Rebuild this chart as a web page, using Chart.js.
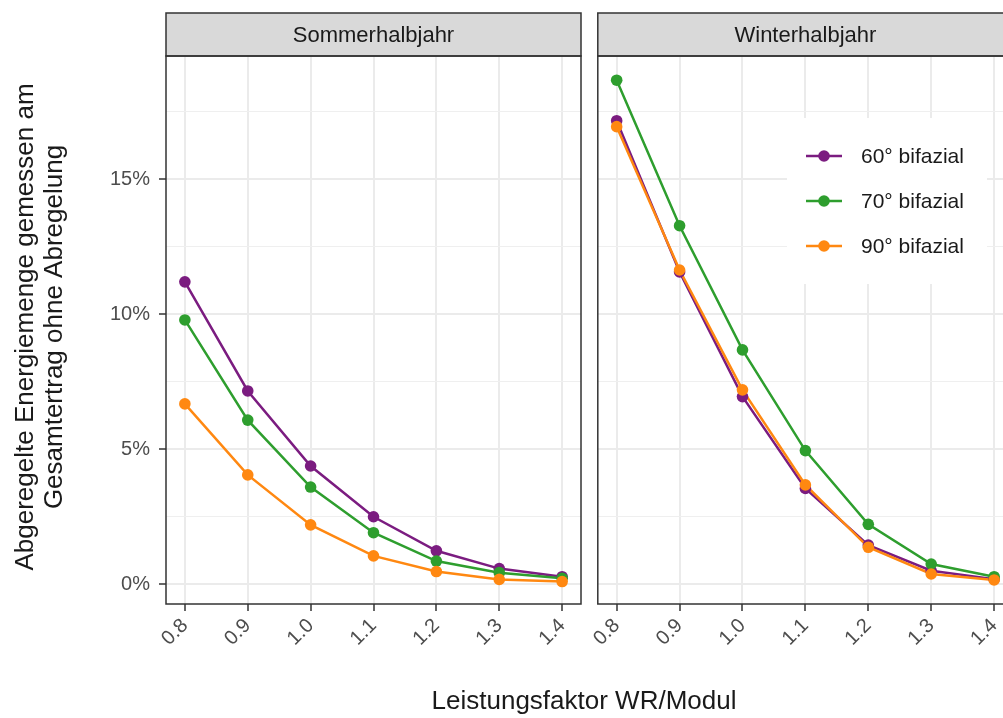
<!DOCTYPE html>
<html>
<head>
<meta charset="utf-8">
<script src="https://cdn.jsdelivr.net/npm/chart.js@4.4.1/dist/chart.umd.min.js"></script>
<style>
  html, body { margin: 0; padding: 0; background: #ffffff; overflow: hidden; width: 1003px; height: 718px; }
  #wrap { position: relative; width: 1003px; height: 718px; overflow: hidden; }
  canvas { position: absolute; top: 0; }
  #cSummer { left: 0; width: 1003px; height: 718px; }
  #cWinter { left: 592px; width: 434px; height: 718px; }
</style>
</head>
<body>
<div id="wrap">
  <canvas id="cSummer" width="1003" height="718"></canvas>
  <canvas id="cWinter" width="434" height="718"></canvas>
</div>
<script>
// Inverter/module power ratio (x axis)
const factors = [0.8, 0.9, 1.0, 1.1, 1.2, 1.3, 1.4];

// Curtailed energy share in % of total yield without curtailment
const summer60 = [11.19, 7.15, 4.37, 2.49, 1.23, 0.57, 0.27];
const summer70 = [9.78, 6.07, 3.59, 1.90, 0.85, 0.42, 0.21];
const summer90 = [6.67, 4.04, 2.19, 1.04, 0.46, 0.17, 0.09];

const winter60 = [17.16, 11.56, 6.94, 3.54, 1.44, 0.49, 0.18];
const winter70 = [18.66, 13.27, 8.67, 4.94, 2.21, 0.74, 0.27];
const winter90 = [16.94, 11.63, 7.19, 3.67, 1.36, 0.37, 0.15];

const seriesNames = ['60° bifazial', '70° bifazial', '90° bifazial'];
const seriesColors = ['#7b1c80', '#2e9e2e', '#ff8811'];

const yTicks = [0, 2.5, 5, 7.5, 10, 12.5, 15, 17.5];
const panelTitles = ['Sommerhalbjahr', 'Winterhalbjahr'];
const yTitle = ['Abgeregelte Energiemenge gemessen am', 'Gesamtertrag ohne Abregelung'];
const xTitle = 'Leistungsfaktor WR/Modul';

const FONT = "'Liberation Sans', Arial, Helvetica, sans-serif";
const INK = '#1a1a1a';
const FRAME = '#333333';
const WINTER_LEFT = 592;

// Lines first (below), then points on top, orange series topmost
function buildDatasets(values) {
  const lines = [], points = [];
  values.forEach((vals, i) => {
    const data = factors.map((f, j) => ({ x: f, y: vals[j] }));
    lines.push({
      label: seriesNames[i], data,
      borderColor: seriesColors[i], backgroundColor: seriesColors[i],
      borderWidth: 2.5, pointRadius: 0, pointHoverRadius: 0, tension: 0,
      order: 3 + (values.length - 1 - i)
    });
    points.push({
      label: seriesNames[i], data,
      borderColor: seriesColors[i], backgroundColor: seriesColors[i],
      showLine: false, pointRadius: 5.8, pointBorderWidth: 0, pointHoverRadius: 5.8,
      order: values.length - 1 - i
    });
  });
  return lines.concat(points);
}

const isMajor = c => c.tick && Math.abs(c.tick.value % 5) < 1e-9;

// Facet strip on top of the panel and the panel frame
const panelDecor = {
  id: 'panelDecor',
  afterDraw(chart, args, opts) {
    const { ctx, chartArea: a } = chart;
    ctx.save();
    ctx.fillStyle = '#d9d9d9';
    ctx.fillRect(a.left, 13, a.right - a.left, a.top - 13);
    ctx.strokeStyle = FRAME;
    ctx.lineWidth = 1.5;
    ctx.strokeRect(a.left, 13, a.right - a.left, a.top - 13);
    ctx.fillStyle = INK;
    ctx.font = `22px ${FONT}`;
    ctx.textAlign = 'center';
    ctx.textBaseline = 'alphabetic';
    ctx.fillText(opts.strip, (a.left + a.right) / 2, 42);
    ctx.strokeRect(a.left, a.top, a.right - a.left, a.bottom - a.top);
    ctx.restore();
  }
};

// Axis titles shared by both panels
const axisTitles = {
  id: 'axisTitles',
  afterDraw(chart, args, opts) {
    if (!opts.show) return;
    const { ctx } = chart;
    ctx.save();
    ctx.fillStyle = INK;
    ctx.font = `26px ${FONT}`;
    ctx.textAlign = 'center';
    ctx.textBaseline = 'alphabetic';
    ctx.fillText(xTitle, 584, 709);
    const baselines = [33, 62];
    yTitle.forEach((line, i) => {
      ctx.save();
      ctx.translate(baselines[i], 327);
      ctx.rotate(-Math.PI / 2);
      ctx.fillText(line, 0, 0);
      ctx.restore();
    });
    ctx.restore();
  }
};

// Legend box placed inside the winter panel
const insetLegend = {
  id: 'insetLegend',
  afterDraw(chart, args, opts) {
    if (!opts.show) return;
    const { ctx } = chart;
    const off = WINTER_LEFT;
    ctx.save();
    ctx.fillStyle = '#ffffff';
    ctx.fillRect(787 - off, 118, 200, 166);
    const rows = [156, 201, 246];
    seriesNames.forEach((name, i) => {
      const y = rows[i];
      ctx.strokeStyle = seriesColors[i];
      ctx.lineWidth = 2.5;
      ctx.beginPath();
      ctx.moveTo(806 - off, y);
      ctx.lineTo(842 - off, y);
      ctx.stroke();
      ctx.fillStyle = seriesColors[i];
      ctx.beginPath();
      ctx.arc(824 - off, y, 5.8, 0, Math.PI * 2);
      ctx.fill();
      ctx.fillStyle = INK;
      ctx.font = `21px ${FONT}`;
      ctx.textAlign = 'left';
      ctx.textBaseline = 'middle';
      ctx.fillText(name, 861 - off, y + 1);
    });
    ctx.restore();
  }
};

function makeChart(id, values, opt) {
  return new Chart(document.getElementById(id), {
    type: 'line',
    data: { datasets: buildDatasets(values) },
    plugins: [panelDecor, axisTitles, insetLegend],
    options: {
      responsive: false,
      devicePixelRatio: 1,
      animation: false,
      events: [],
      layout: { padding: { top: 56, right: opt.padRight, bottom: 0, left: 0 } },
      plugins: {
        legend: { display: false },
        tooltip: { enabled: false },
        panelDecor: { strip: opt.strip },
        axisTitles: { show: opt.left },
        insetLegend: { show: !opt.left }
      },
      scales: {
        x: {
          type: 'linear',
          min: 0.77, max: 1.43,
          afterBuildTicks: s => { s.ticks = factors.map(v => ({ value: v })); },
          afterFit: s => { s.height = 114; },
          ticks: {
            autoSkip: false, minRotation: 45, maxRotation: 45, padding: 3,
            color: '#4d4d4d', font: { family: FONT, size: 20 },
            callback: v => Number(v).toFixed(1)
          },
          grid: { color: '#ebebeb', lineWidth: 2, tickLength: 7, tickColor: FRAME, tickWidth: 1.5 },
          border: { display: false }
        },
        y: {
          type: 'linear',
          min: -0.741, max: 19.556,
          afterBuildTicks: s => { s.ticks = yTicks.map(v => ({ value: v })); },
          afterFit: s => { s.width = opt.left ? 166 : 2; },
          ticks: {
            display: opt.left, padding: 9,
            color: '#4d4d4d', font: { family: FONT, size: 20 },
            callback: v => (Math.abs(v % 5) < 1e-9 ? v + '%' : '')
          },
          grid: {
            color: c => (isMajor(c) ? '#ebebeb' : '#efefef'),
            lineWidth: c => (isMajor(c) ? 2 : 1),
            drawTicks: opt.left, tickLength: 7,
            tickColor: c => (isMajor(c) ? FRAME : 'rgba(0,0,0,0)'),
            tickWidth: 1.5
          },
          border: { display: false }
        }
      }
    }
  });
}

makeChart('cSummer', [summer60, summer70, summer90], { left: true, strip: panelTitles[0], padRight: 1003 - 581 });
makeChart('cWinter', [winter60, winter70, winter90], { left: false, strip: panelTitles[1], padRight: 434 - 421 });
</script>
</body>
</html>
